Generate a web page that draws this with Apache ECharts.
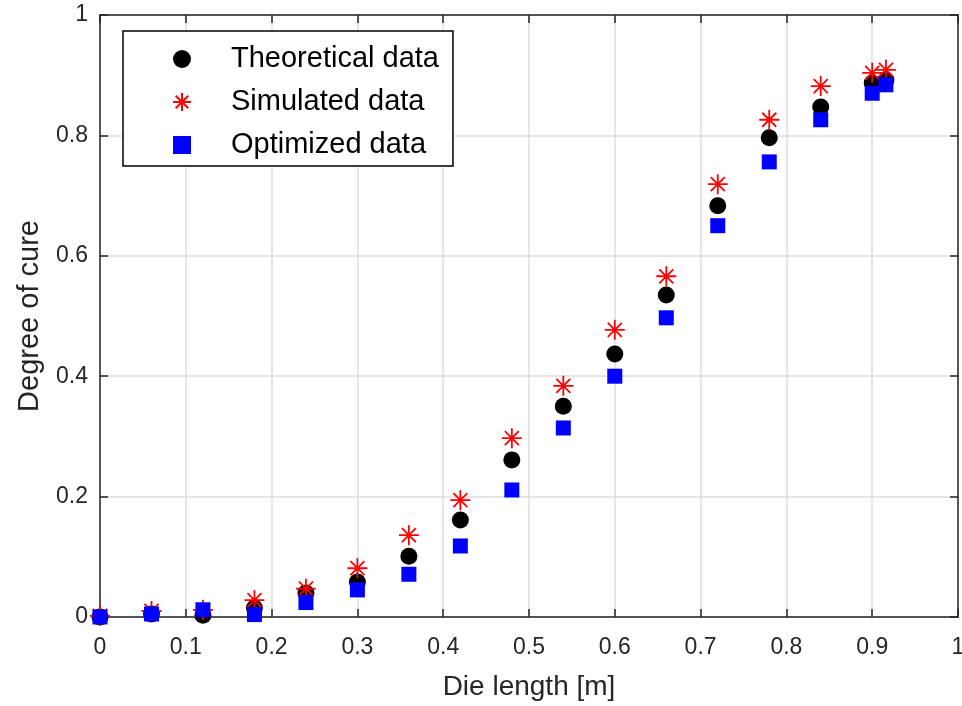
<!DOCTYPE html>
<html>
<head>
<meta charset="utf-8">
<script src="https://cdn.jsdelivr.net/npm/echarts@6/dist/echarts.min.js"></script>
<style>
  html, body { margin: 0; padding: 0; background: #fff; }
  #chart { width: 962px; height: 706px; }
</style>
</head>
<body>
<div id="chart"></div>
<script>
// die positions [m]
const dieLength = [0, 0.06, 0.12, 0.18, 0.24, 0.30, 0.36, 0.42, 0.48, 0.54, 0.60, 0.66, 0.72, 0.78, 0.84, 0.90, 0.916];
const theoretical = [0, 0.005, 0.003, 0.015, 0.040, 0.058, 0.101, 0.161, 0.261, 0.350, 0.437, 0.535, 0.683, 0.796, 0.847, 0.887, 0.892];
const simulated = [0.002, 0.010, 0.012, 0.028, 0.047, 0.081, 0.136, 0.194, 0.297, 0.384, 0.477, 0.566, 0.719, 0.826, 0.882, 0.904, 0.909];
const optimized = [0, 0.005, 0.012, 0.004, 0.024, 0.045, 0.071, 0.118, 0.211, 0.314, 0.400, 0.497, 0.650, 0.756, 0.826, 0.870, 0.884];
const seriesNames = ['Theoretical data', 'Simulated data', 'Optimized data'];

const pair = (ys) => dieLength.map((x, i) => [x, ys[i]]);

const axisColor = '#262626';
const font = 'Liberation Sans, Arial, sans-serif';
// asterisk marker like matlab '*'
const starPath = 'path://M10 0 L10 20 M0 10 L20 10 M3 3 L17 17 M3 17 L17 3';

const axisCommon = {
  min: 0, max: 1, interval: 0.1,
  axisLine: { show: true, onZero: false, lineStyle: { color: axisColor, width: 1.5 } },
  axisTick: { show: true, inside: true, length: 8, lineStyle: { color: axisColor, width: 1.5 } },
};
const tickLabel = { fontFamily: font, fontSize: 23, color: axisColor,
  formatter: v => String(+v.toFixed(1)) };

const chart = echarts.init(document.getElementById('chart'));
chart.setOption({
  backgroundColor: '#fff',
  animation: false,
  grid: { left: 100, top: 15, right: 4, bottom: 89, containLabel: false, outerBoundsMode: 'none' },
  legend: {
    orient: 'vertical',
    left: 123, top: 31,
    data: seriesNames,
    itemWidth: 18, itemHeight: 18,
    itemGap: 13,
    padding: [13, 14, 6, 49],
    borderColor: '#000', borderWidth: 1.5,
    backgroundColor: '#fff',
    textStyle: { fontFamily: font, fontSize: 29, lineHeight: 30, color: '#000', padding: [0, 0, 0, 35] }
  },
  xAxis: [
    Object.assign({}, axisCommon, {
      type: 'value', position: 'bottom',
      name: 'Die length [m]', nameLocation: 'middle', nameGap: 56,
      nameTextStyle: { fontFamily: font, fontSize: 28, color: axisColor },
      axisLabel: Object.assign({ margin: 19 }, tickLabel),
      splitLine: { show: true, lineStyle: { color: '#dedede', width: 1.5 } }
    }),
    Object.assign({}, axisCommon, {
      type: 'value', position: 'top',
      axisLabel: { show: false }, splitLine: { show: false }
    })
  ],
  yAxis: [
    Object.assign({}, axisCommon, {
      type: 'value', position: 'left', interval: 0.2,
      name: 'Degree of cure', nameLocation: 'middle', nameGap: 56,
      nameTextStyle: { fontFamily: font, fontSize: 29, color: axisColor },
      axisLabel: Object.assign({ margin: 12 }, tickLabel),
      splitLine: { show: true, lineStyle: { color: '#dedede', width: 1.5 } }
    }),
    Object.assign({}, axisCommon, {
      type: 'value', position: 'right', interval: 0.2,
      axisLabel: { show: false }, splitLine: { show: false }
    })
  ],
  series: [
    {
      name: seriesNames[0], type: 'scatter', data: pair(theoretical),
      symbol: 'circle', symbolSize: 17,
      itemStyle: { color: '#000', opacity: 1 }
    },
    {
      name: seriesNames[1], type: 'scatter', data: pair(simulated),
      symbol: starPath, symbolSize: 20,
      itemStyle: { color: 'rgba(0,0,0,0)', borderColor: '#ff0000', borderWidth: 1.8, opacity: 1 }
    },
    {
      name: seriesNames[2], type: 'scatter', data: pair(optimized),
      symbol: 'rect', symbolSize: 15,
      itemStyle: { color: '#0000ff', opacity: 1 }
    }
  ]
});
</script>
</body>
</html>
